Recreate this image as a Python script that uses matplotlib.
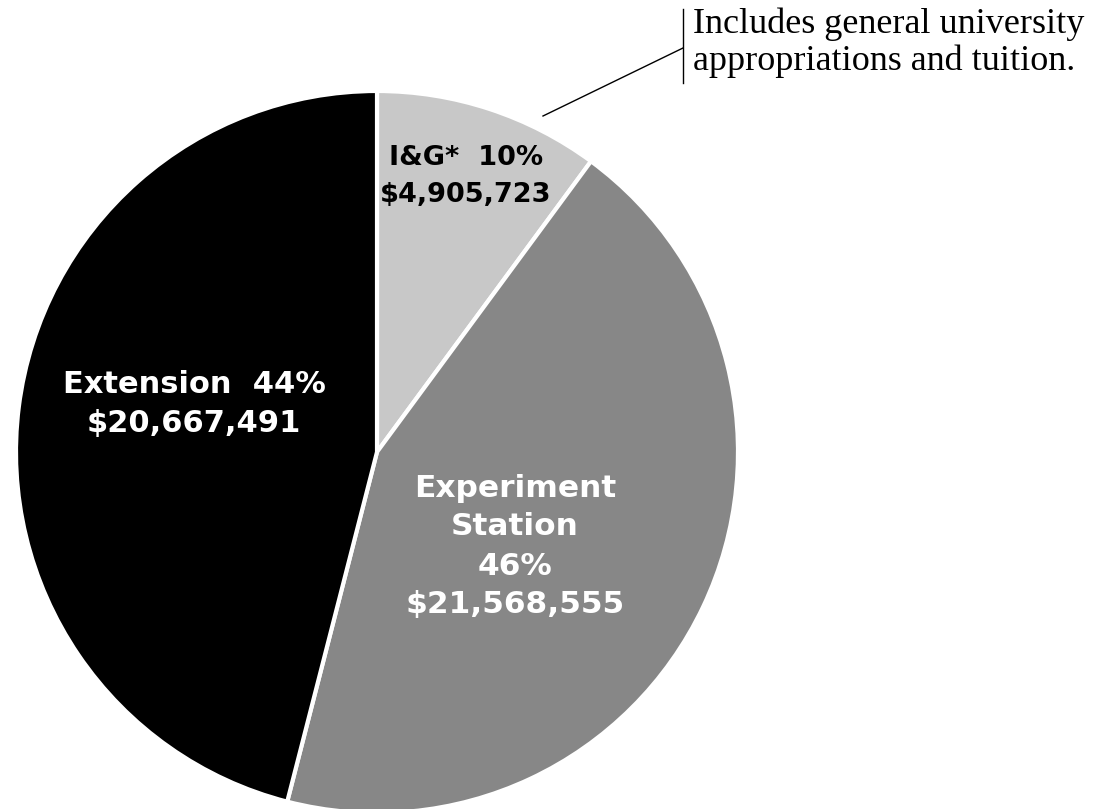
import matplotlib
matplotlib.use("Agg")
import matplotlib.pyplot as plt

categories = ["I&G*", "Experiment Station", "Extension"]
shares = [10.1, 43.9, 46.0]
pct_labels = ["10%", "46%", "44%"]
amounts = ["$4,905,723", "$21,568,555", "$20,667,491"]
colors = ["#c8c8c8", "#878787", "#000000"]
note_lines = ["Includes general university", "appropriations and tuition."]

W, H = 1103, 809
fig = plt.figure(figsize=(W / 100, H / 100), dpi=100)
ax = fig.add_axes([0, 0, 1, 1])

cx, cy, r = 377, H - 452, 361

ax.pie(shares, colors=colors, startangle=90, counterclock=False,
       center=(cx, cy), radius=r, frame=True,
       wedgeprops=dict(edgecolor="white", linewidth=3))
ax.set_xlim(0, W)
ax.set_ylim(0, H)
ax.set_aspect("equal")
ax.axis("off")

bold = dict(family="DejaVu Sans", weight="bold", ha="center", va="baseline")

def lines(x, baselines, texts, size, color):
    for y, t in zip(baselines, texts):
        ax.text(x, H - y, t, fontsize=size, color=color, **bold)

# I&G label
lines(466, [165, 202], [f"{categories[0]}  {pct_labels[0]}", amounts[0]], 19.5, "black")

# Experiment Station label
lines(515, [497, 535, 575, 613],
      ["Experiment", "Station", pct_labels[1], amounts[1]], 22.5, "white")

# Extension label
lines(194, [393, 432], [f"{categories[2]}  {pct_labels[2]}", amounts[2]], 22, "white")

# Annotation
ax.plot([543, 683], [H - 116, H - 48], color="black", lw=1)
ax.plot([683, 683], [H - 9, H - 83], color="black", lw=1)
for y, t in zip([33, 70], note_lines):
    ax.text(693, H - y, t, fontsize=26, family="Liberation Serif", ha="left",
            va="baseline", color="black")

fig.savefig("out.png", dpi=100)
